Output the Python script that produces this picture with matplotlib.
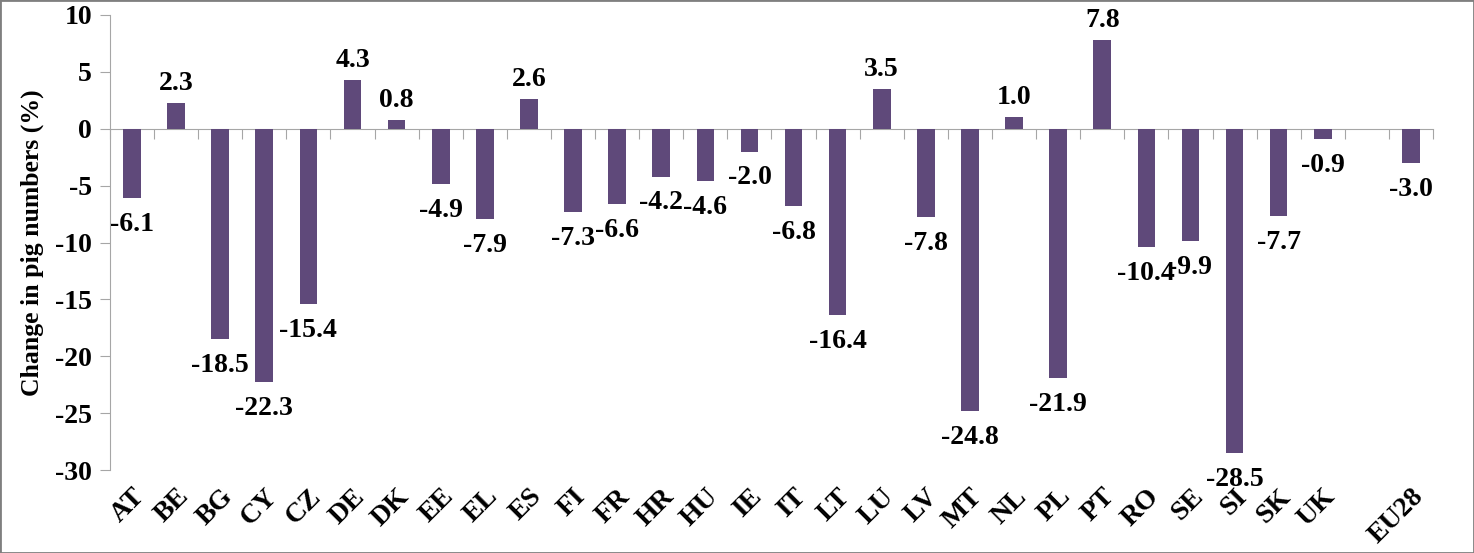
import numpy as np
import matplotlib
matplotlib.use("Agg")
import matplotlib.pyplot as plt
from matplotlib.patches import Rectangle

# ---- data: change in pig numbers by member state (blank slot before EU28) ----
countries = ["AT", "BE", "BG", "CY", "CZ", "DE", "DK", "EE", "EL", "ES",
             "FI", "FR", "HR", "HU", "IE", "IT", "LT", "LU", "LV", "MT",
             "NL", "PL", "PT", "RO", "SE", "SI", "SK", "UK", "", "EU28"]
change = [-6.1, 2.3, -18.5, -22.3, -15.4, 4.3, 0.8, -4.9, -7.9, 2.6,
          -7.3, -6.6, -4.2, -4.6, -2.0, -6.8, -16.4, 3.5, -7.8, -24.8,
          1.0, -21.9, 7.8, -10.4, -9.9, -28.5, -7.7, -0.9, np.nan, -3.0]
yticks = [10, 5, 0, -5, -10, -15, -20, -25, -30]

plt.rcParams["font.family"] = ["Liberation Serif", "DejaVu Serif"]
plt.rcParams["font.weight"] = "bold"

bar_color = "#5F497A"
axis_gray = "#A6A6A6"
fs = 20

fig = plt.figure(figsize=(14.74, 5.53), dpi=100)
ax = fig.add_axes([0.0746, 0.150, 0.8976, 0.8229])

x = np.arange(len(countries))
vals = np.array(change, dtype=float)
ax.bar(x, vals, width=0.4, color=bar_color, zorder=3)

# value labels: above for positive, below for negative
for xi, v in zip(x, vals):
    if np.isnan(v):
        continue
    if v >= 0:
        ax.annotate(f"{v:.1f}", (xi, v), xytext=(0, 5), textcoords="offset points",
                    ha="center", va="bottom", fontsize=fs, fontweight="bold")
    else:
        ax.annotate(f"{v:.1f}", (xi, v), xytext=(0, -10), textcoords="offset points",
                    ha="center", va="top", fontsize=fs, fontweight="bold")

ax.set_xlim(-0.5, len(countries) - 0.5)
ax.set_ylim(-30, 10)
ax.set_yticks(yticks)
ax.set_yticklabels([str(t) for t in yticks], fontsize=fs, fontweight="bold")
ax.tick_params(axis="y", direction="out", length=7, color=axis_gray, pad=6)

# zero line acts as category axis, ticks between categories
ax.spines["bottom"].set_position(("data", 0))
ax.spines["bottom"].set_color(axis_gray)
ax.spines["left"].set_color(axis_gray)
ax.spines["top"].set_visible(False)
ax.spines["right"].set_visible(False)
ax.set_xticks(np.arange(len(countries) + 1) - 0.5)
ax.set_xticklabels([])
ax.tick_params(axis="x", direction="out", length=7, color=axis_gray)

# country names along the bottom of the plot area
sec = ax.secondary_xaxis("bottom")
sec.spines["bottom"].set_visible(False)
sec.set_xticks(x)
sec.set_xticklabels(countries, rotation=45, ha="right", rotation_mode="anchor",
                    fontsize=fs, fontweight="bold")
sec.tick_params(axis="x", length=0, pad=10)

ax.set_ylabel("Change in pig numbers (%)", fontsize=18.5, fontweight="bold", labelpad=8)

# thin frame around the whole chart
fig.patches.append(Rectangle((0.0, 0.0), 1.0, 1.0, transform=fig.transFigure,
                             fill=False, edgecolor="#7F7F7F", linewidth=2))

fig.savefig("out.png", dpi=100)
